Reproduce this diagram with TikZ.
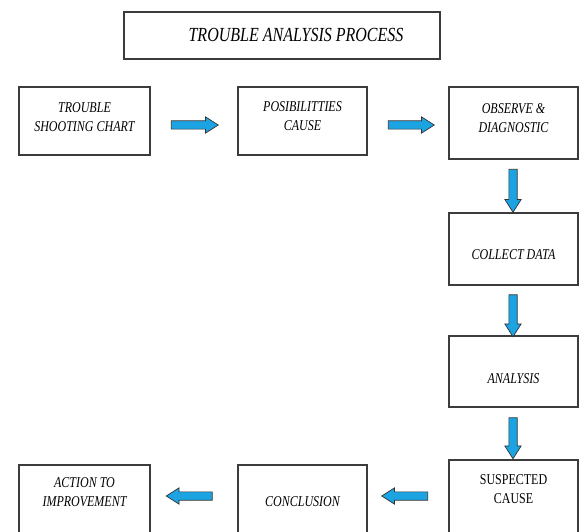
\documentclass[tikz,border=0pt]{standalone}
\usepackage{fontspec}
\setmainfont{Liberation Serif}
\newfontfamily\condfont[FakeStretch=0.8]{Liberation Serif}
\usetikzlibrary{shapes.arrows}
\definecolor{arrowblue}{RGB}{28,163,225}
\definecolor{boxline}{RGB}{60,60,60}
\begin{document}
\begin{tikzpicture}[x=1pt,y=-1pt,
  box/.style={draw=boxline, line width=1.4pt, fill=white, inner sep=0pt, rectangle},
  txt/.style={font=\condfont\fontsize{15}{19}\selectfont\itshape, align=center, inner sep=0pt},
  txtup/.style={font=\condfont\fontsize{15}{19}\selectfont, align=center, inner sep=0pt},
  titletxt/.style={font=\condfont\fontsize{20}{24}\selectfont\itshape, inner sep=0pt},
  blockarrow/.style={single arrow, draw=black!80, line width=0.7pt, fill=arrowblue,
    text height=0pt, text depth=0pt, text width=0pt, inner xsep=0pt, inner ysep=3.8pt,
    minimum width=16pt, single arrow head extend=4pt,
    single arrow tip angle=65, rotate=#1},
]
\useasboundingbox (0,0) rectangle (579,532);
\clip (0,0) rectangle (579,532);

% title
\node[box, minimum width=316pt, minimum height=47pt,
  label={[titletxt,xshift=14pt,yshift=1pt]center:TROUBLE ANALYSIS PROCESS}] (title) at (282,35.5) {};

% top row
\node[box, minimum width=131pt, minimum height=68pt,
  label={[txt,yshift=4pt]center:{TROUBLE\\SHOOTING CHART}}] (b1) at (84.5,121) {};
\node[box, minimum width=129pt, minimum height=68pt,
  label={[txt,yshift=5pt]center:{POSIBILITTIES\\CAUSE}}] (b2) at (302.5,121) {};
\node[box, minimum width=129pt, minimum height=72pt,
  label={[txt,yshift=5pt]center:{OBSERVE \&\\DIAGNOSTIC}}] (b3) at (513.5,123) {};

% right column
\node[box, minimum width=129pt, minimum height=72pt,
  label={[txt,yshift=-6pt]center:COLLECT DATA}] (b4) at (513.5,249) {};
\node[box, minimum width=129pt, minimum height=71pt,
  label={[txt,yshift=-7pt]center:ANALYSIS}] (b5) at (513.5,371.5) {};
\node[box, minimum width=129pt, minimum height=85pt,
  label={[txtup,yshift=13pt]center:{SUSPECTED\\CAUSE}}] (b6) at (513.5,502.5) {};

% bottom row
\node[box, minimum width=129pt, minimum height=80pt,
  label={[txt,yshift=3pt]center:CONCLUSION}] (b7) at (302.5,505) {};
\node[box, minimum width=131pt, minimum height=80pt,
  label={[txt,yshift=13pt]center:{ACTION TO\\IMPROVEMENT}}] (b8) at (84.5,505) {};

% block arrows between boxes
\node[blockarrow=0, minimum height=47pt] (a12) at (191.5,125) {};
\node[blockarrow=0, minimum height=46pt] (a23) at (408,125) {};
\node[blockarrow=-90, minimum height=43pt] (a34) at (513,187.5) {};
\node[blockarrow=-90, minimum height=42pt] (a45) at (513,312.5) {};
\node[blockarrow=-90, minimum height=41pt] (a56) at (513,435) {};
\node[blockarrow=180, minimum height=46pt] (a67) at (408,496) {};
\node[blockarrow=180, minimum height=46pt] (a78) at (192.5,496) {};
\end{tikzpicture}
\end{document}
